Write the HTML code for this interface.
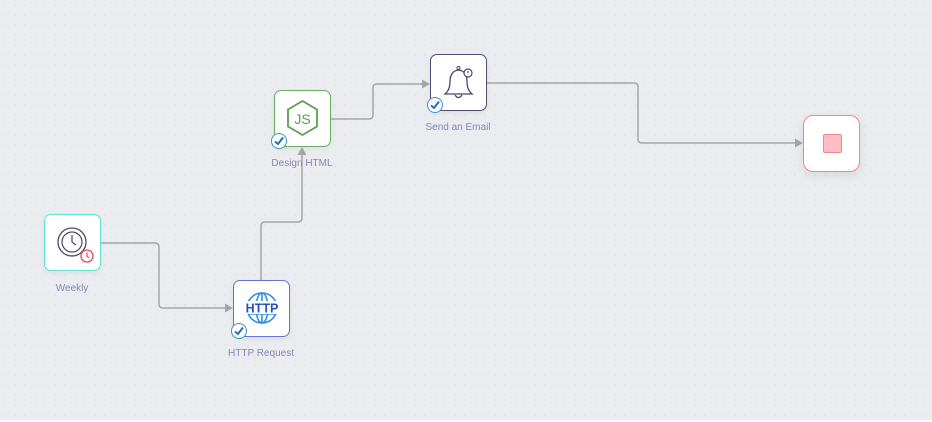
<!DOCTYPE html>
<html><head><meta charset="utf-8"><style>
html,body{margin:0;padding:0}
body{width:932px;height:422px;overflow:hidden;background:#fff;font-family:"Liberation Sans",sans-serif;position:relative}
.bg{position:absolute;left:0;top:0;width:932px;height:420px;background-color:#eaecef;background-image:radial-gradient(circle,#e0e2e6 0.7px,transparent 1px);background-size:10px 10px}
.node{position:absolute;width:55px;height:55px;background:#fff;border-radius:7px;box-shadow:0 2px 6px rgba(0,0,0,0.06)}
.lbl{position:absolute;font-size:10px;color:#8a86b4;text-align:center;width:120px}
.chk{position:absolute;width:14px;height:14px;border-radius:50%;background:#fff;border:1px solid #3d8fd4}
</style></head><body>
<div class="bg"></div>
<svg width="932" height="422" style="position:absolute;left:0;top:0">
<g fill="none" stroke="#a4a6aa" stroke-width="1.5">
<path d="M101 243 H155 Q159 243 159 247 V304 Q159 308 163 308 H226"/>
<path d="M261 280 V226 Q261 222 265 222 H298 Q302 222 302 218 V154"/>
<path d="M331 119 H369 Q373 119 373 115 V88 Q373 84 377 84 H423"/>
<path d="M487 83 H634 Q638 83 638 87 V139 Q638 143 642 143 H796"/>
</g>
<g fill="#a4a6aa">
<path d="M233 308 L225 303.5 V312.5 Z"/>
<path d="M302 147 L297.5 155 H306.5 Z"/>
<path d="M430 84 L422 79.5 V88.5 Z"/>
<path d="M803 143 L795 138.5 V147.5 Z"/>
</g>
</svg>
<div class="node" style="left:44px;top:214px;border:1px solid #5fe0d0"></div>
<svg width="57" height="57" style="position:absolute;left:44px;top:214px">
<circle cx="28" cy="28" r="14" fill="none" stroke="#4a4766" stroke-width="1.3"/>
<circle cx="28" cy="28" r="10" fill="none" stroke="#4a4766" stroke-width="1.2"/>
<path d="M28 21 V28 L32 31" stroke="#4a4766" stroke-width="1.2" fill="none"/>
<circle cx="43" cy="42" r="6" fill="#fff" stroke="#e8485e" stroke-width="1.3"/>
<path d="M43 38.5 V42 L45 44" stroke="#e8485e" stroke-width="1.2" fill="none"/>
</svg>
<div class="lbl" style="left:12px;top:283px">Weekly</div>

<div class="node" style="left:233px;top:280px;border:1px solid #6673d6"></div>
<svg width="57" height="57" style="position:absolute;left:233px;top:280px">
<g fill="none" stroke="#2f8fe6" stroke-width="1.6">
<circle cx="29" cy="28" r="15"/>
<ellipse cx="29" cy="28" rx="6" ry="15"/>
<path d="M15 22 H43 M15 34 H43 M29 13 V43"/>
</g>
<rect x="13" y="21" width="32" height="13" fill="#fff"/>
<text x="29" y="32.5" font-size="12.5" font-weight="bold" fill="#2a50b8" text-anchor="middle" font-family="Liberation Sans">HTTP</text>
</svg>
<div class="chk" style="left:231px;top:323px"></div>
<svg width="16" height="16" style="position:absolute;left:231px;top:323px"><path d="M4 8.5 L7 11 L12 4.5" stroke="#1f6fb8" stroke-width="2" fill="none"/></svg>
<div class="lbl" style="left:201px;top:348px">HTTP Request</div>

<div class="node" style="left:274px;top:90px;border:1px solid #6aae60"></div>
<svg width="57" height="57" style="position:absolute;left:274px;top:90px">
<path d="M28.5 11 L43 19.5 V36.5 L28.5 45 L14 36.5 V19.5 Z" fill="none" stroke="#5a9e52" stroke-width="1.8"/>
<text x="28.5" y="34" font-size="14" fill="#5a9e52" text-anchor="middle" font-family="Liberation Sans">JS</text>
</svg>
<div class="chk" style="left:271px;top:133px"></div>
<svg width="16" height="16" style="position:absolute;left:271px;top:133px"><path d="M4 8.5 L7 11 L12 4.5" stroke="#1f6fb8" stroke-width="2" fill="none"/></svg>
<div class="lbl" style="left:242px;top:158px">Design HTML</div>

<div class="node" style="left:430px;top:54px;border:1px solid #4f4c70"></div>
<svg width="57" height="57" style="position:absolute;left:430px;top:54px">
<path d="M15 40 Q20 36 20 28 Q20 17 28.5 16 Q37 17 37 28 Q37 36 42 40 Z" fill="none" stroke="#4a4766" stroke-width="1.3"/>
<path d="M25 41 Q28.5 46 32 41" fill="none" stroke="#4a4766" stroke-width="1.3"/>
<circle cx="28.5" cy="14" r="1.5" fill="none" stroke="#4a4766"/>
<circle cx="38" cy="19" r="4" fill="#fff" stroke="#4a4766" stroke-width="1.2"/>
<path d="M38 17 V19.5" stroke="#4a4766"/>
</svg>
<div class="chk" style="left:427px;top:97px"></div>
<svg width="16" height="16" style="position:absolute;left:427px;top:97px"><path d="M4 8.5 L7 11 L12 4.5" stroke="#1f6fb8" stroke-width="2" fill="none"/></svg>
<div class="lbl" style="left:398px;top:122px">Send an Email</div>

<div class="node" style="left:803px;top:115px;border:1px solid #f5848e;border-radius:10px;box-shadow:0 4px 10px rgba(0,0,0,0.08)"></div>
<div style="position:absolute;left:823px;top:134px;width:17px;height:17px;background:#ffbcc2;border:1px solid #f08890;border-radius:2px"></div>
</body></html>
